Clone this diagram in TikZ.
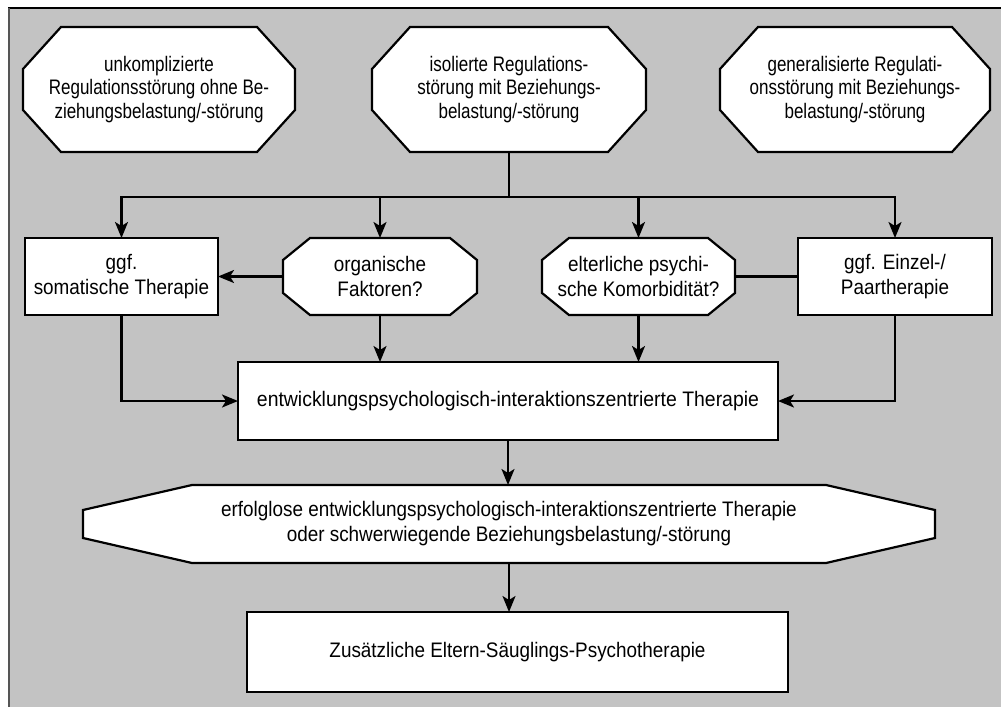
\documentclass[tikz,border=0pt]{standalone}
\usepackage{fontspec}
\setmainfont{Liberation Sans}[FakeStretch=0.90]
\newfontfamily\narrowfont{Liberation Sans}[FakeStretch=0.81]
\newfontfamily\widefont{Liberation Sans}[FakeStretch=0.925]
\usetikzlibrary{arrows.meta,calc,backgrounds}

\definecolor{panel}{RGB}{195,195,195}
\definecolor{edgegrey}{RGB}{85,85,85}

% octagonal frame around a named node: #1 node, #2 horizontal chamfer, #3 vertical chamfer
\newcommand\octframe[3]{%
  \filldraw[frame]
    ($(#1.north west)+(#2,0)$) -- ($(#1.north east)+(-#2,0)$) --
    ($(#1.north east)+(0,#3)$) -- ($(#1.south east)+(0,-#3)$) --
    ($(#1.south east)+(-#2,0)$) -- ($(#1.south west)+(#2,0)$) --
    ($(#1.south west)+(0,-#3)$) -- ($(#1.north west)+(0,#3)$) -- cycle;}

\begin{document}
\begin{tikzpicture}[x=1pt,y=-1pt,
  txt/.style={align=center,font=\fontsize{21}{25}\selectfont,inner sep=0pt,outer sep=0pt},
  toptxt/.style={txt,font=\narrowfont\fontsize{21}{23.5}\selectfont},
  frame/.style={draw=black,fill=white,line width=2.2pt,line join=miter},
  rectbox/.style={txt,frame},
  octbox/.style={txt},
  conn/.style={line width=2.2pt},
  arr/.style={conn,-{Stealth[length=16pt,width=13pt,inset=4pt]}}]

\useasboundingbox (0,0) rectangle (1001,707);

% top row
\node[octbox,toptxt,minimum width=272pt,minimum height=125pt] (t1) at (159,89.5)
  {unkomplizierte\\Regulationsstörung ohne Be-\\ziehungsbelastung/-störung};
\node[octbox,toptxt,minimum width=274pt,minimum height=125pt] (t2) at (509,89.5)
  {isolierte Regulations-\\störung mit Beziehungs-\\belastung/-störung};
\node[octbox,toptxt,minimum width=270pt,minimum height=125pt] (t3) at (855,89.5)
  {generalisierte Regulati-\\onsstörung mit Beziehungs-\\belastung/-störung};

% middle row
\node[rectbox,minimum width=193pt,minimum height=77pt] (m1) at (121.5,276.5)
  {ggf.\\somatische Therapie};
\node[octbox,minimum width=194pt,minimum height=77pt] (m2) at (380,276.5)
  {organische\\Faktoren?};
\node[octbox,minimum width=193pt,minimum height=77pt] (m3) at (638.5,276.5)
  {elterliche psychi-\\sche Komorbidität?};
\node[rectbox,minimum width=194pt,minimum height=77pt] (m4) at (895,276.5)
  {ggf. Einzel-/\\Paartherapie};

% main therapy
\node[rectbox,font=\widefont\fontsize{21}{25}\selectfont,minimum width=540pt,minimum height=78pt] (main) at (508,401)
  {entwicklungspsychologisch-interaktionszentrierte Therapie};

% escalation condition
\node[octbox,minimum width=852pt,minimum height=78pt] (hex) at (509,524)
  {erfolglose entwicklungspsychologisch-interaktionszentrierte Therapie\\oder schwerwiegende Beziehungsbelastung/-störung};

% final step
\node[rectbox,minimum width=541pt,minimum height=80pt] (fin) at (517.5,652)
  {Zusätzliche Eltern-Säuglings-Psychotherapie};

\coordinate (split) at (509,197);

% panel and octagonal frames underneath
\begin{pgfonlayer}{background}
  \fill[white] (0,0) rectangle (1001,707);
  \fill[panel] (9,8) rectangle (1001,707);
  \draw[line width=2.5pt] (8,8) -- (1001,8);
  \draw[edgegrey,line width=2pt] (9,8) -- (9,707);
  \octframe{t1}{38}{42}
  \octframe{t2}{38}{42}
  \octframe{t3}{38}{42}
  \octframe{m2}{27}{22}
  \octframe{m3}{27}{22}
  \octframe{hex}{109}{25}
\end{pgfonlayer}

% connectors
\draw[conn] (t2.south) -- (split);
\draw[arr] (split) -| (m1.north);
\draw[arr] (split) -| (m4.north);
\draw[arr] (m2.north |- split) -- (m2.north);
\draw[arr] (m3.north |- split) -- (m3.north);
\draw[arr] (m2.west) -- (m1.east);
\draw[conn] (m3.east) -- (m4.west);
\draw[arr] (m1.south) |- (main.west);
\draw[arr] (m4.south) |- (main.east);
\draw[arr] (m2.south) -- (m2.south |- main.north);
\draw[arr] (m3.south) -- (m3.south |- main.north);
\draw[arr] (main.south) -- (main.south |- hex.north);
\draw[arr] (hex.south) -- (hex.south |- fin.north);
\end{tikzpicture}
\end{document}
